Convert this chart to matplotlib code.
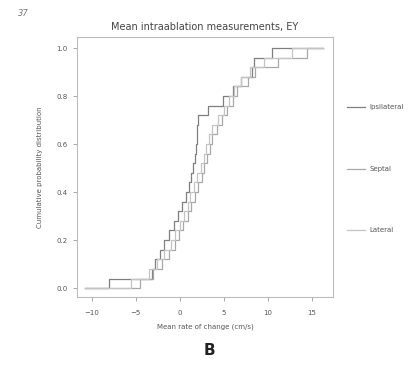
import numpy as np
import matplotlib
matplotlib.use("Agg")
import matplotlib.pyplot as plt

# ── Data (estimated observations, read off the ECDF steps) ─────────────────
group_names = ["Ipsilateral", "Septal", "Lateral"]
group_a = [-8.0, -3.2, -2.8, -2.3, -1.8, -1.2, -0.7, -0.2, 0.3, 0.7, 1.0, 1.3, 1.5,
           1.7, 1.8, 1.9, 2.0, 2.1, 3.2, 4.9, 6.0, 6.9, 8.2, 8.4, 10.5]
group_b = [-4.5, -3.0, -2.0, -1.2, -0.6, -0.1, 0.4, 0.9, 1.3, 1.7, 2.1, 2.5, 2.8,
           3.1, 3.4, 3.7, 4.2, 4.8, 5.4, 6.0, 6.5, 7.8, 8.6, 11.2, 14.5]
group_c = [-5.5, -3.5, -2.6, -1.8, -1.0, -0.5, 0.0, 0.5, 0.9, 1.2, 1.6, 2.0, 2.4,
           2.7, 3.0, 3.3, 3.7, 4.3, 5.0, 5.6, 6.2, 7.0, 8.0, 9.6, 12.8]
x_ticks = [-10, -5, 0, 5, 10, 15]
y_ticks = [0.0, 0.2, 0.4, 0.6, 0.8, 1.0]

colors = ["#7f7f7f", "#a8a8a8", "#c4c4c4"]
x_lo, x_hi = -10.8, 16.3

fig = plt.figure(figsize=(4.09, 3.70), dpi=100)
ax = fig.add_axes([0.188, 0.197, 0.626, 0.703])

for vals, name, col in zip([group_a, group_b, group_c], group_names, colors):
    v = np.sort(np.asarray(vals, dtype=float))
    y = np.arange(1, len(v) + 1) / len(v)
    xs = np.concatenate([[x_lo], v, [x_hi]])
    ys = np.concatenate([[0.0], y, [1.0]])
    ax.step(xs, ys, where="post", color=col, lw=0.9, label=name)

ax.set_xlim(-11.7, 17.4)
ax.set_ylim(-0.0375, 1.046)
ax.set_xticks(x_ticks)
ax.set_yticks(y_ticks)
ax.set_yticklabels([f"{t:.1f}" for t in y_ticks])
ax.tick_params(labelsize=5, colors="#999999", labelcolor="#555555", length=3, width=0.6)
ax.tick_params(axis="x", pad=6)
for s in ax.spines.values():
    s.set_color("#bbbbbb")
    s.set_linewidth(0.8)

ax.set_title("Mean intraablation measurements, EY", fontsize=7, color="#444444", pad=5)
ax.set_xlabel("Mean rate of change (cm/s)", fontsize=5, color="#555555", labelpad=6)
ax.set_ylabel("Cumulative probability distribution", fontsize=5, color="#555555", labelpad=10)

ax.legend(loc="upper left", bbox_to_anchor=(1.03, 0.765), frameon=False, fontsize=5,
          labelspacing=8.0, handlelength=2.6, handletextpad=0.6, labelcolor="#555555")

fig.text(0.045, 0.975, "37", fontsize=6, color="#777777", style="italic", va="top")
fig.text(0.513, 0.04, "B", fontsize=11, fontweight="bold", color="#222222", ha="center")

fig.savefig("out.png", dpi=100)
